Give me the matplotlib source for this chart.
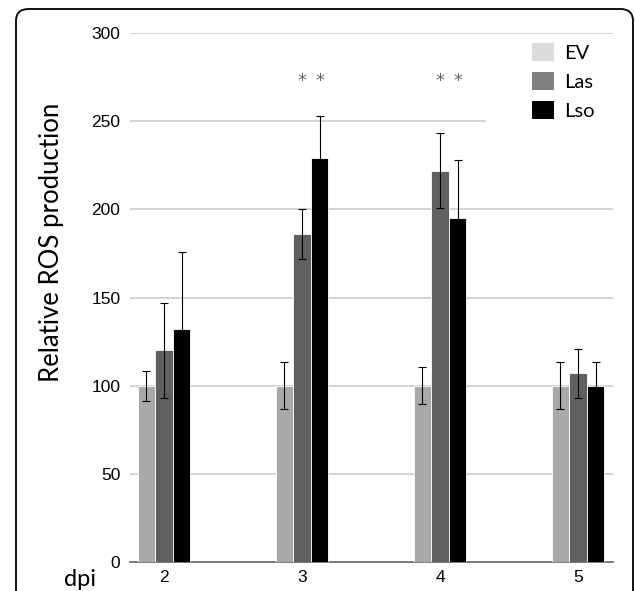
import numpy as np
import matplotlib
matplotlib.use("Agg")
import matplotlib.pyplot as plt
from matplotlib.patches import Patch, FancyBboxPatch

# data
days = ['2', '3', '4', '5']
ev = [100, 100, 100, 100]
ev_err = [8.5, 13.5, 10.5, 13.5]
las = [120, 186, 222, 107]
las_err = [27, 14, 21.5, 14]
lso = [132, 229, 195, 100]
lso_err = [44, 24, 33, 13.5]
sig_days = ['3', '4']       # ** over Las and Lso
sig_level = 273
yticks = [0, 50, 100, 150, 200, 250, 300]

W, H = 635, 591
fig = plt.figure(figsize=(W / 100, H / 100), dpi=100)
ax = fig.add_axes([130 / W, 1 - 562 / H, 483 / W, 529 / H])

x = np.arange(len(days))
bw = 0.127
off = 0.128
err_kw = dict(ecolor='black', elinewidth=0.8, capsize=3.2, capthick=0.8)

ax.bar(x - off, ev, bw, yerr=ev_err, color='#a9a9a9', edgecolor='white', linewidth=0.6, error_kw=err_kw, zorder=3)
ax.bar(x, las, bw, yerr=las_err, color='#606060', edgecolor='white', linewidth=0.6, error_kw=err_kw, zorder=3)
ax.bar(x + off, lso, bw, yerr=lso_err, color='black', edgecolor='white', linewidth=0.6, error_kw=err_kw, zorder=3)

# gridlines (the 250 one stops at the legend)
for t in yticks[1:]:
    xmax = 0.735 if t == 250 else 1.0
    ax.axhline(t, xmin=0, xmax=xmax, color='#c8c8c8', lw=1.1, zorder=1)

for d in sig_days:
    i = days.index(d)
    for o in (0, off):
        ax.text(i + o, sig_level, '*', ha='center', va='center', fontsize=13,
                color='#666666', family='DejaVu Sans')

ax.set_xlim(-0.246, 3.254)
ax.set_ylim(0, 300)
ax.set_xticks(x)
ax.set_xticklabels(days, fontsize=12.5, family='Liberation Sans')
ax.set_yticks(yticks)
ax.set_yticklabels([str(t) for t in yticks], fontsize=12.5, family='Liberation Sans')
ax.tick_params(length=0, pad=7)
ax.tick_params(axis='x', pad=6)
for s in ['top', 'right', 'left']:
    ax.spines[s].set_visible(False)
ax.spines['bottom'].set_color('#707070')
ax.spines['bottom'].set_linewidth(1.3)

ax.set_ylabel('Relative ROS production', fontsize=18.5, family='Lato')
ax.yaxis.set_label_coords(-(130 - 64) / 483, (562 - 242) / 529)
fig.text(80 / W, 1 - 580 / H, 'dpi', fontsize=17, family='Lato', ha='center', va='center')

handles = [Patch(facecolor='#dcdcdc'), Patch(facecolor='#808080'), Patch(facecolor='black')]
fig.legend(handles, ['EV', 'Las', 'Lso'], loc='upper left', bbox_to_anchor=(532 / W, 1 - 43 / H),
           frameon=False, prop={'family': 'Lato', 'size': 14.5}, handlelength=1.1, handleheight=1.0,
           labelspacing=0.5, handletextpad=0.5, borderpad=0, borderaxespad=0)

# rounded frame, bottom edge runs off the image
frame = FancyBboxPatch((16 / W, -0.1), (633 - 16) / W, 1.1 - 9 / H,
                       boxstyle='round,pad=0,rounding_size=0.02', transform=fig.transFigure,
                       facecolor='none', edgecolor='#111111', lw=1.4)
fig.patches.append(frame)

fig.savefig('out.png', dpi=100)
